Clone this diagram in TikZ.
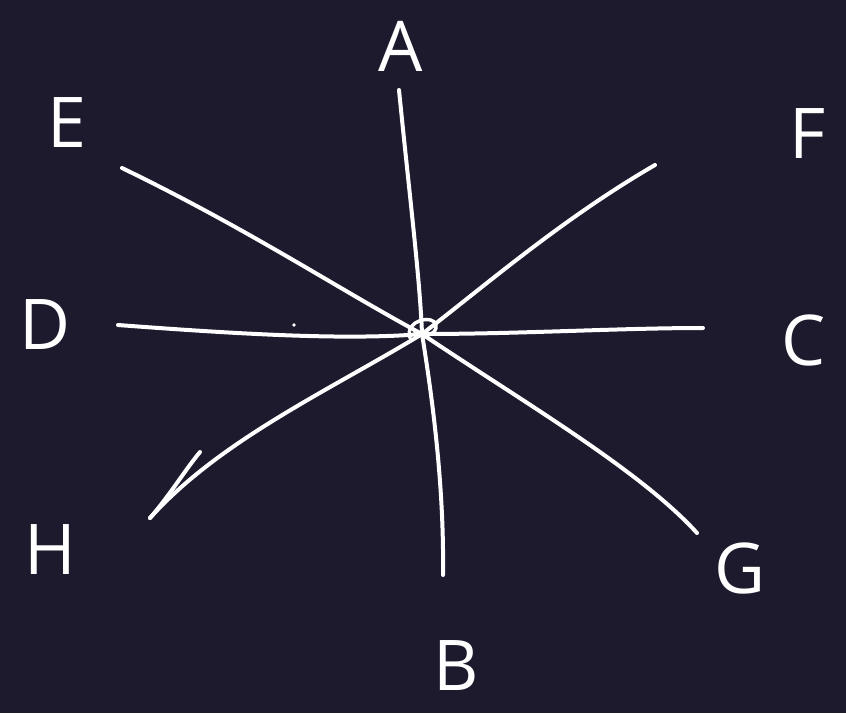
\documentclass[tikz,border=0pt]{standalone}
\usepackage{fontspec}
\setmainfont{Open Sans}
\definecolor{bgc}{HTML}{1E1A2E}
\tikzset{
  stroke/.style={draw=white, line width=4pt, line cap=round, line join=round},
  lbl/.style={text=white, font=\fontsize{70}{70}\selectfont, inner sep=0pt}
}
\begin{document}
\begin{tikzpicture}[x=1pt,y=-1pt]
\fill[bgc] (0,0) rectangle (846,713);
\useasboundingbox (0,0) rectangle (846,713);
% centre and ends
\coordinate (O) at (422,334);
\coordinate (a) at (399,90);
\coordinate (b) at (443,575);
\coordinate (c) at (703,328);
\coordinate (d) at (118,325);
\coordinate (e) at (122,168);
\coordinate (f) at (655,165);
\coordinate (g) at (697,533);
\coordinate (h) at (150,518);
\coordinate (hb) at (200,452);
% labels
\node[lbl] (A) at (401,46) {A};
\node[lbl] (E) at (67,123) {E};
\node[lbl] (F) at (808,134) {F};
\node[lbl] (D) at (45,325) {D};
\node[lbl] (C) at (804,340) {C};
\node[lbl] (H) at (50,550) {H};
\node[lbl] (G) at (740,568) {G};
\node[lbl] (B) at (456,666) {B};
% lines
\draw[stroke] (a) .. controls (410,200) and (420,280) .. (O) .. controls (436,420) and (444,500) .. (b);
\draw[stroke] (e) .. controls (250,230) and (340,290) .. (O) .. controls (520,400) and (640,470) .. (g);
\draw[stroke] (f) .. controls (560,220) and (480,290) .. (O) .. controls (330,390) and (220,440) .. (h);
\draw[stroke] (d) .. controls (250,335) and (350,340) .. (O) .. controls (520,334) and (620,328) .. (c);
\draw[stroke] (h) .. controls (170,495) and (185,470) .. (hb);
% small loop at centre
\draw[stroke, line width=3.4pt] (410,338) .. controls (404,320) and (434,314) .. (436,325) .. controls (438,336) and (418,340) .. (414,330);
% dot
\fill[white] (294,325) circle (1.8pt);
\end{tikzpicture}
\end{document}
